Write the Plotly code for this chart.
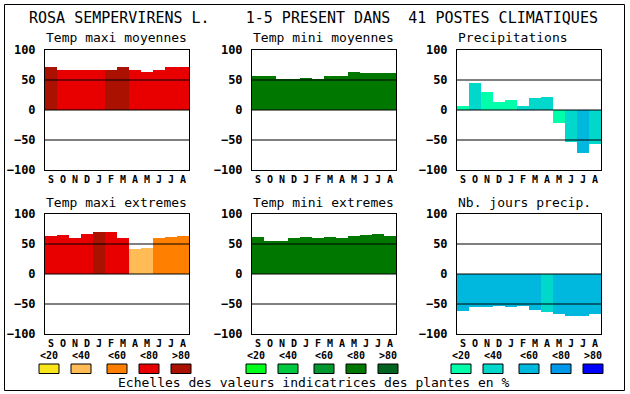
import plotly.graph_objects as go

W, H = 630, 394

months = ["S", "O", "N", "D", "J", "F", "M", "A", "M", "J", "J", "A"]
y_ticks = [-100, -50, 0, 50, 100]
legend_labels = ["<20", "<40", "<60", "<80", ">80"]

titles = ["Temp maxi moyennes", "Temp mini moyennes", "Precipitations",
          "Temp maxi extremes", "Temp mini extremes", "Nb. jours precip."]

tmax_moy = [71, 67, 66, 67, 67, 67, 72, 67, 64, 67, 71, 72]
tmax_moy_cls = [4, 3, 3, 3, 3, 4, 4, 3, 3, 3, 3, 3]
tmin_moy = [57, 56, 51, 51, 54, 52, 57, 57, 64, 62, 62, 62]
tmin_moy_cls = [3] * 12
precip = [7, 45, 30, 14, 17, 7, 20, 22, -22, -54, -72, -57]
precip_cls = [0, 1, 0, 0, 0, 1, 1, 1, 0, 1, 2, 1]
tmax_ext = [64, 65, 60, 67, 70, 70, 60, 42, 44, 60, 62, 64]
tmax_ext_cls = [3, 3, 3, 3, 4, 3, 3, 1, 1, 2, 2, 2]
tmin_ext = [62, 55, 55, 60, 62, 60, 62, 60, 64, 65, 67, 64]
tmin_ext_cls = [3] * 12
njours = [-62, -55, -55, -54, -55, -54, -60, -64, -67, -70, -70, -67]
njours_cls = [2, 2, 2, 2, 2, 2, 2, 1, 2, 2, 2, 2]

pal_tmax = ["#f8e51c", "#ffbb55", "#ff8000", "#e80000", "#aa1100"]
pal_tmin = ["#00ff1a", "#00c840", "#00982f", "#007800", "#006420"]
pal_prec = ["#00ffaa", "#00d8cc", "#00b8dd", "#0098e8", "#0000ff"]

panels = [
    (tmax_moy, tmax_moy_cls, pal_tmax),
    (tmin_moy, tmin_moy_cls, pal_tmin),
    (precip, precip_cls, pal_prec),
    (tmax_ext, tmax_ext_cls, pal_tmax),
    (tmin_ext, tmin_ext_cls, pal_tmin),
    (njours, njours_cls, pal_prec),
]

# layout geometry in pixels
col_x = [(45, 189), (252, 396), (457, 601)]
row_y = [(50, 170), (214, 334)]

def px(x):
    return x / W

def py(y):
    return 1 - y / H

MONO = "DejaVu Sans Mono"
fig = go.Figure()
layout = dict(width=W, height=H,
              margin=dict(l=0, r=0, t=0, b=0, pad=0, autoexpand=False),
              autosize=False,
              paper_bgcolor="white", plot_bgcolor="white",
              showlegend=False, bargap=0, font=dict(family=MONO, color="black"))
shapes = []
annotations = []

for i, (vals, cls, pal) in enumerate(panels):
    r, c = divmod(i, 3)
    n = "" if i == 0 else str(i + 1)
    xa, ya = "x" + n, "y" + n
    fig.add_trace(go.Bar(
        x=list(range(len(months))), y=vals,
        marker=dict(color=[pal[k] for k in cls], line=dict(width=0)),
        width=1, xaxis=xa, yaxis=ya, hoverinfo="skip"))
    x0, x1 = col_x[c]
    y0, y1 = row_y[r]
    layout["xaxis" + n] = dict(
        domain=[px(x0), px(x1)], anchor=ya, range=[-0.5, 11.5],
        tickvals=list(range(12)), ticktext=months, ticks="",
        showgrid=False, zeroline=False, showline=True, mirror=True,
        linecolor="black", linewidth=1, ticklabelstandoff=0, automargin=False,
        tickfont=dict(family=MONO, size=10, weight="bold"), fixedrange=True)
    layout["yaxis" + n] = dict(
        domain=[py(y1), py(y0)], anchor=xa, range=[-100, 100],
        tickvals=y_ticks, ticks="", showgrid=False, zeroline=False,
        showline=True, mirror=True, linecolor="black", linewidth=1,
        ticklabelstandoff=6, automargin=False,
        tickfont=dict(family=MONO, size=12, weight="bold"), fixedrange=True)
    for t in y_ticks[1:-1]:
        shapes.append(dict(type="line", xref=xa + " domain", yref=ya,
                           x0=0, x1=1, y0=t, y1=t, layer="above",
                           line=dict(color="black", width=1)))
    # panel title
    annotations.append(dict(text=titles[i], xref="paper", yref="paper",
                            x=px(x0 - 1), y=py(38 if r == 0 else 202),
                            xanchor="left", yanchor="middle", showarrow=False,
                            font=dict(family=MONO, size=13)))

# legends under bottom row
legend_pals = [pal_tmax, pal_tmin, pal_prec]
offsets = [-6, 26, 62, 94, 126]
for c in range(3):
    x0 = col_x[c][0]
    for k, off in enumerate(offsets):
        bx0, bx1 = x0 + off, x0 + off + 20
        shapes.append(dict(type="rect", xref="paper", yref="paper",
                           x0=px(bx0), x1=px(bx1), y0=py(373.5), y1=py(364),
                           fillcolor=legend_pals[c][k],
                           line=dict(color="black", width=1)))
        annotations.append(dict(text=legend_labels[k], xref="paper", yref="paper",
                                x=px((bx0 + bx1) / 2), y=py(355),
                                xanchor="center", yanchor="middle", showarrow=False,
                                font=dict(family=MONO, size=10, weight="bold")))

# main title
annotations.append(dict(
    text="ROSA SEMPERVIRENS L.\u00a0\u00a0\u00a0\u00a01-5 PRESENT DANS\u00a0\u00a041 POSTES CLIMATIQUES",
    xref="paper", yref="paper", x=px(313.5), y=py(18), xanchor="center",
    yanchor="middle", showarrow=False, font=dict(family=MONO, size=15)))
# footer
annotations.append(dict(
    text="Echelles des valeurs indicatrices des plantes en %",
    xref="paper", yref="paper", x=px(314), y=py(382), xanchor="center",
    yanchor="middle", showarrow=False, font=dict(family=MONO, size=13)))

# outer frame
shapes.append(dict(type="rect", xref="paper", yref="paper",
                   x0=px(4.5), x1=px(624.5), y0=py(390.5), y1=py(4.5),
                   line=dict(color="black", width=1), layer="above"))

layout["shapes"] = shapes
layout["annotations"] = annotations
fig.update_layout(**layout)

page_fix = (
    "var s=document.createElement('style');"
    "s.textContent='html,body{margin:0;padding:0;overflow:hidden;}';"
    "document.head.appendChild(s);"
)
fig.write_html("out.html", config={"displayModeBar": False}, post_script=page_fix)
